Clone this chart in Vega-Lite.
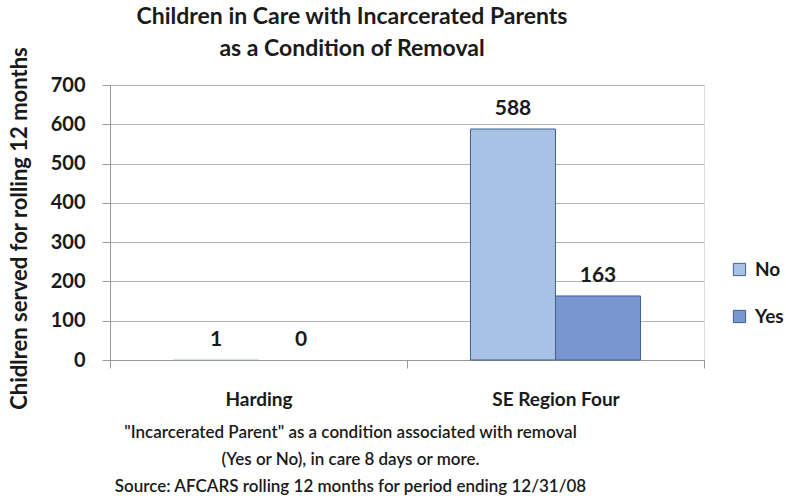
{
  "$schema": "https://vega.github.io/schema/vega-lite/v6.json",
  "autosize": "none",
  "width": 594,
  "height": 275,
  "padding": {"left": 110, "top": 85, "right": 82, "bottom": 136},
  "background": "white",
  "title": {
    "text": ["Children in Care with Incarcerated Parents", "as a Condition of Removal"],
    "fontSize": 23,
    "font": "Lato",
    "fontWeight": "bold",
    "color": "#1a1a1a",
    "lineHeight": 32,
    "anchor": "middle",
    "frame": "group",
    "dx": -55,
    "offset": -14
  },
  "data": {
    "values": [
      {"region": "Harding", "parent": "No", "value": 1},
      {"region": "Harding", "parent": "Yes", "value": 0},
      {"region": "SE Region Four", "parent": "No", "value": 588},
      {"region": "SE Region Four", "parent": "Yes", "value": 163}
    ]
  },
  "encoding": {
    "x": {
      "field": "region",
      "type": "nominal",
      "scale": {"paddingInner": 0, "paddingOuter": 0},
      "axis": {
        "labelAngle": 0,
        "labelFontSize": 19,
        "labelFont": "Lato",
        "labelFontWeight": "bold",
        "labelColor": "#1a1a1a",
        "labelPadding": 22,
        "tickBand": "extent",
        "tickSize": 8,
        "tickColor": "#999999",
        "domainColor": "#999999",
        "title": ["\"Incarcerated Parent\" as a condition associated with removal", "(Yes or No), in care 8 days or more.", "Source: AFCARS rolling 12 months for period ending 12/31/08"],
        "titleFont": "Lato",
        "titleFontSize": 17,
        "titleFontWeight": 600,
        "titleColor": "#1a1a1a",
        "titleLineHeight": 27,
        "titlePadding": 15,
        "titleX": 240
      }
    },
    "xOffset": {
      "field": "parent",
      "type": "nominal",
      "scale": {"paddingInner": 0, "paddingOuter": 0.747}
    },
    "y": {
      "field": "value",
      "type": "quantitative",
      "scale": {"domain": [0, 700], "nice": false},
      "axis": {
        "values": [0, 100, 200, 300, 400, 500, 600, 700],
        "grid": true,
        "gridColor": "#b3b3b3",
        "tickSize": 8,
        "tickColor": "#999999",
        "domainColor": "#999999",
        "labelFontSize": 20,
        "labelFont": "Lato",
        "labelFontWeight": "bold",
        "labelColor": "#1a1a1a",
        "labelPadding": 17,
        "title": "Chidlren served for rolling 12 months",
        "titleFont": "Lato",
        "titleFontSize": 22,
        "titleFontWeight": "bold",
        "titleColor": "#1a1a1a",
        "titlePadding": 19,
        "titleY": 143
      }
    }
  },
  "layer": [
    {
      "mark": {"type": "bar", "stroke": "#41608f", "strokeWidth": 1},
      "encoding": {
        "strokeOpacity": {"condition": {"test": "datum.value > 1", "value": 1}, "value": 0},
        "color": {
          "field": "parent",
          "type": "nominal",
          "scale": {"domain": ["No", "Yes"], "range": ["#a7c2e5", "#7896cf"]},
          "legend": {
            "title": null,
            "orient": "none",
            "legendX": 620,
            "legendY": 175,
            "symbolType": "square",
            "symbolSize": 150,
            "symbolStrokeColor": "#41608f",
            "symbolStrokeWidth": 1,
            "labelFont": "Lato",
            "labelFontSize": 19,
            "labelFontWeight": "bold",
            "labelColor": "#1a1a1a",
            "rowPadding": 27,
            "labelOffset": 6
          }
        }
      }
    },
    {
      "mark": {"type": "text", "baseline": "bottom", "dy": -10, "font": "Lato", "fontSize": 21, "fontWeight": "bold", "color": "#1a1a1a"},
      "encoding": {
        "text": {"field": "value", "type": "quantitative"}
      }
    }
  ]
}
